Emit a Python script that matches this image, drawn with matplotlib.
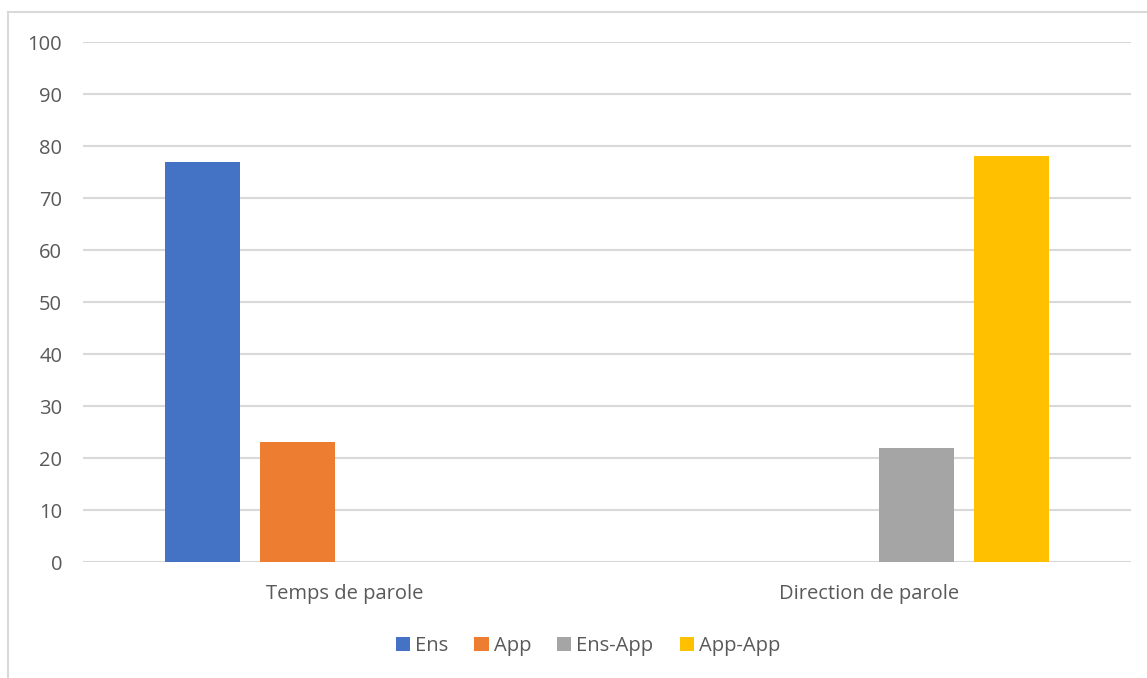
import numpy as np
import matplotlib
matplotlib.use("Agg")
import matplotlib.pyplot as plt
from matplotlib.lines import Line2D

categories = ["Temps de parole", "Direction de parole"]
series_names = ["Ens", "App", "Ens-App", "App-App"]
ens = [77, 0]
app = [23, 0]
ens_app = [0, 22]
app_app = [0, 78]
yticks = [0, 10, 20, 30, 40, 50, 60, 70, 80, 90, 100]

colors = ["#4472c4", "#ed7d31", "#a5a5a5", "#ffc000"]
text_color = "#595959"
grid_color = "#d9d9d9"

plt.rcParams['font.family'] = ['Open Sans', 'DejaVu Sans']

W, H = 1147, 678
fig = plt.figure(figsize=(W / 100, H / 100), dpi=100)
ax = fig.add_axes([83 / W, 1 - 562 / H, (1131 - 83) / W, (562 - 42) / H])

x = np.arange(len(categories))
step = 95 / 524
width = 75 / 524
all_series = [ens, app, ens_app, app_app]
for i, vals in enumerate(all_series):
    ax.bar(x + (i - 1.5) * step, vals, width=width, color=colors[i],
           label=series_names[i], zorder=3)

ax.set_xlim(-0.5, 1.5)
ax.set_ylim(0, 100)
ax.set_yticks(yticks)
ax.set_xticks(x)
ax.set_xticklabels(categories)
ax.yaxis.grid(True, color=grid_color, linewidth=1.5, zorder=0)
ax.tick_params(axis='both', length=0, labelsize=14.5, labelcolor=text_color)
ax.tick_params(axis='y', pad=15)
ax.tick_params(axis='x', pad=16)
for s in ax.spines.values():
    s.set_visible(False)

# outer chart border (left and top only visible)
fig.add_artist(Line2D([8 / W, 8 / W], [0, 1 - 12 / H], color=grid_color, linewidth=1.5))
fig.add_artist(Line2D([8 / W, 1], [1 - 12 / H, 1 - 12 / H], color=grid_color, linewidth=1.5))

fig.legend(loc='center', bbox_to_anchor=(588 / W, 1 - 646 / H), ncol=4, frameon=False,
           fontsize=14.5, labelcolor=text_color, handlelength=0.7, handleheight=0.7,
           handletextpad=0.25, columnspacing=1.3)

fig.savefig("out.png", dpi=100)
